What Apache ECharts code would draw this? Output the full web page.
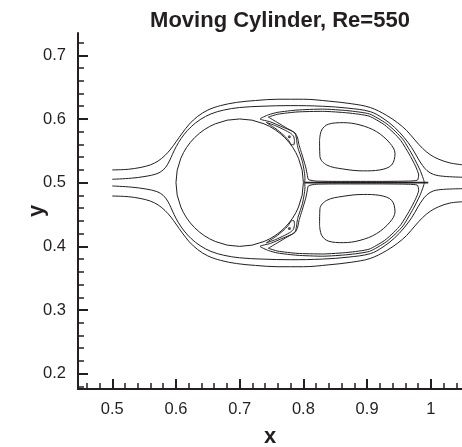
<!DOCTYPE html>
<html>
<head>
<meta charset="utf-8">
<script src="https://cdn.jsdelivr.net/npm/echarts@6/dist/echarts.min.js"></script>
<style>
  html, body { margin: 0; padding: 0; background: #fff; }
  #chart { width: 462px; height: 447px; }
</style>
</head>
<body>
<div id="chart"></div>
<script>
// Axis ticks
const xMajorTicks = [0.5, 0.6, 0.7, 0.8, 0.9, 1];
const xMinorTicks = [0.46, 0.48, 0.52, 0.54, 0.56, 0.58, 0.62, 0.64, 0.66, 0.68, 0.72, 0.74, 0.76, 0.78,
  0.82, 0.84, 0.86, 0.88, 0.92, 0.94, 0.96, 0.98, 1.02, 1.04];
const yMajorTicks = [0.2, 0.3, 0.4, 0.5, 0.6, 0.7];
const yMinorTicks = [0.18, 0.22, 0.24, 0.26, 0.28, 0.32, 0.34, 0.36, 0.38, 0.42, 0.44, 0.46, 0.48,
  0.52, 0.54, 0.56, 0.58, 0.62, 0.64, 0.66, 0.68, 0.72];

// Cylinder
const cylinderCenter = [0.7, 0.5];
const cylinderRadius = 0.1;

// Free-stream streamlines passing over / under the wake
const streamOuterTop = [[0.500,0.520],[0.525,0.521],[0.545,0.524],[0.560,0.528],[0.572,0.534],[0.583,0.543],
  [0.592,0.553],[0.600,0.564],[0.610,0.578],[0.621,0.592],[0.634,0.604],[0.650,0.614],[0.670,0.621],
  [0.695,0.626],[0.725,0.629],[0.760,0.631],[0.800,0.631],[0.840,0.628],[0.875,0.624],[0.905,0.618],
  [0.930,0.606],[0.948,0.594],[0.962,0.582],[0.975,0.567],[0.987,0.554],[0.999,0.544],[1.012,0.537],
  [1.030,0.531],[1.050,0.528]];
const streamInnerTop = [[0.500,0.5053],[0.530,0.507],[0.553,0.510],[0.570,0.514],[0.580,0.520],[0.587,0.529],
  [0.592,0.539],[0.597,0.550],[0.604,0.563],[0.613,0.576],[0.624,0.588],[0.638,0.599],[0.655,0.608],
  [0.675,0.614],[0.700,0.618],[0.735,0.620],[0.780,0.621],[0.830,0.620],[0.870,0.617],[0.905,0.6115],
  [0.925,0.601],[0.943,0.587],[0.958,0.571],[0.970,0.555],[0.980,0.538],[0.987,0.527],[0.994,0.519],
  [1.004,0.513],[1.020,0.510],[1.050,0.5085]];
const streamInnerBottom = [[0.500,0.4948],[0.530,0.493],[0.553,0.490],[0.570,0.486],[0.580,0.480],[0.587,0.471],
  [0.592,0.461],[0.597,0.450],[0.604,0.437],[0.613,0.424],[0.624,0.412],[0.638,0.401],[0.655,0.392],
  [0.675,0.386],[0.700,0.382],[0.735,0.380],[0.780,0.379],[0.830,0.380],[0.870,0.383],[0.905,0.3885],
  [0.925,0.399],[0.943,0.413],[0.958,0.429],[0.970,0.445],[0.980,0.462],[0.987,0.473],[0.994,0.481],
  [1.004,0.487],[1.020,0.4895],[1.050,0.4905]];
const streamOuterBottom = [[0.500,0.479],[0.525,0.478],[0.545,0.475],[0.560,0.471],[0.572,0.465],[0.583,0.456],
  [0.592,0.446],[0.600,0.435],[0.610,0.421],[0.621,0.407],[0.634,0.395],[0.650,0.385],[0.670,0.378],
  [0.695,0.373],[0.725,0.370],[0.760,0.368],[0.800,0.368],[0.840,0.371],[0.875,0.375],[0.905,0.381],
  [0.930,0.393],[0.948,0.405],[0.962,0.417],[0.975,0.432],[0.987,0.445],[0.999,0.455],[1.012,0.462],
  [1.030,0.468],[1.050,0.470]];

// Dividing streamline of the recirculation bubble (with the corner "horns" at separation)
const bubbleEdgeTop = [[0.802,0.500],[0.8025,0.508],[0.801,0.520],[0.7985,0.533],[0.795,0.544],[0.7915,0.5545],
  [0.790,0.562],[0.789,0.570],[0.787,0.577],[0.782,0.581],[0.7685,0.5868],[0.748,0.5955],[0.732,0.600],
  [0.745,0.6065],[0.760,0.6105],[0.790,0.6140],[0.830,0.6155],[0.870,0.6130],[0.904,0.6078],[0.930,0.593],
  [0.945,0.580],[0.957,0.567],[0.9725,0.541],[0.983,0.520],[0.988,0.507],[0.990,0.500]];
const bubbleEdgeBottom = [[0.802,0.500],[0.8025,0.492],[0.801,0.480],[0.7985,0.467],[0.795,0.456],[0.7915,0.4455],
  [0.790,0.438],[0.789,0.430],[0.787,0.423],[0.782,0.419],[0.7685,0.4132],[0.748,0.4045],[0.732,0.400],
  [0.745,0.3935],[0.760,0.3895],[0.790,0.3860],[0.830,0.3845],[0.870,0.3870],[0.904,0.3922],[0.930,0.407],
  [0.945,0.420],[0.957,0.433],[0.9725,0.459],[0.983,0.480],[0.988,0.493],[0.990,0.500]];
const wakeAxis = [[0.802,0.500],[0.850,0.500],[0.900,0.500],[0.950,0.500],[0.990,0.500],[0.996,0.500]];

// Closed streamlines just inside the bubble edge
const bubbleLoopTopA = [[0.745,0.603],[0.760,0.6075],[0.790,0.611],[0.830,0.612],[0.870,0.6095],[0.903,0.6045],
  [0.927,0.591],[0.942,0.578],[0.953,0.566],[0.966,0.545],[0.976,0.526],[0.981,0.512],[0.979,0.504],
  [0.965,0.5025],[0.920,0.502],[0.860,0.502],[0.820,0.5025],[0.808,0.505],[0.806,0.513],[0.804,0.523],
  [0.800,0.537],[0.796,0.550],[0.793,0.560],[0.791,0.570],[0.787,0.578],[0.775,0.585],[0.760,0.594],
  [0.745,0.603]];
const bubbleLoopBottomA = [[0.745,0.397],[0.760,0.3925],[0.790,0.389],[0.830,0.388],[0.870,0.3905],[0.903,0.3955],
  [0.927,0.409],[0.942,0.422],[0.953,0.434],[0.966,0.455],[0.976,0.474],[0.981,0.488],[0.979,0.496],
  [0.965,0.4975],[0.920,0.498],[0.860,0.498],[0.820,0.4975],[0.808,0.495],[0.806,0.487],[0.804,0.477],
  [0.800,0.463],[0.796,0.450],[0.793,0.440],[0.791,0.430],[0.787,0.422],[0.775,0.415],[0.760,0.406],
  [0.745,0.397]];

// Primary vortices of the wake
const vortexTop = [[0.8254,0.567],[0.8287,0.5827],[0.839,0.5917],[0.8627,0.5942],[0.8889,0.5906],[0.915,0.580],
  [0.936,0.5618],[0.9438,0.546],[0.9386,0.5278],[0.920,0.520],[0.894,0.5185],[0.862,0.5215],[0.8366,0.5278],
  [0.826,0.541],[0.8254,0.567]];
const vortexBottom = [[0.8254,0.433],[0.8287,0.4173],[0.839,0.4083],[0.8627,0.4058],[0.8889,0.4094],[0.915,0.420],
  [0.936,0.4382],[0.9438,0.454],[0.9386,0.4722],[0.920,0.480],[0.894,0.4815],[0.862,0.4785],[0.8366,0.4722],
  [0.826,0.459],[0.8254,0.433]];

// Secondary vortices inside the separation horns
const hornLoopTop = [[0.742,0.5945],[0.756,0.5895],[0.770,0.583],[0.780,0.5775],[0.7845,0.573],[0.786,0.566],
  [0.785,0.5595],[0.781,0.560],[0.776,0.5675],[0.768,0.5755],[0.757,0.5845],[0.746,0.5915],[0.742,0.5945]];
const hornLoopBottom = [[0.742,0.4055],[0.756,0.4105],[0.770,0.417],[0.780,0.4225],[0.7845,0.427],[0.786,0.434],
  [0.785,0.4405],[0.781,0.440],[0.776,0.4325],[0.768,0.4245],[0.757,0.4155],[0.746,0.4085],[0.742,0.4055]];
const hornCores = [[0.778,0.572],[0.778,0.428]];

const INK = '#231f20';
const FONT = '"Liberation Sans", Arial, Helvetica, sans-serif';
const X_MIN = 0.4462, X_MAX = 1.049, Y_MIN = 0.176, Y_MAX = 0.735;

function stream(data, opts) {
  return Object.assign({
    type: 'line', data: data, showSymbol: false, symbol: 'none', smooth: 0.35,
    lineStyle: { color: INK, width: 1 }, silent: true, animation: false, clip: true
  }, opts || {});
}

const chart = echarts.init(document.getElementById('chart'), null, { renderer: 'canvas' });
chart.setOption({
  backgroundColor: '#ffffff',
  animation: false,
  title: {
    text: 'Moving Cylinder, Re=550',
    left: 275, top: 5, textAlign: 'center',
    textStyle: { fontFamily: FONT, fontSize: 22, fontWeight: 'bold', color: INK }
  },
  grid: { left: 78, top: 33, right: 0, bottom: 58, containLabel: false, outerBoundsMode: 'none' },
  xAxis: [{
    type: 'value', min: X_MIN, max: X_MAX, position: 'bottom',
    name: 'x', nameLocation: 'middle', nameGap: 37, nameMoveOverlap: false,
    nameTextStyle: { fontFamily: FONT, fontSize: 22, fontWeight: 'bold', color: INK },
    axisLine: { show: true, lineStyle: { color: INK, width: 2 } },
    axisTick: { show: true, inside: true, length: 10, customValues: xMajorTicks, lineStyle: { color: INK, width: 2 } },
    axisLabel: { show: true, customValues: xMajorTicks, margin: 12, formatter: v => String(v),
      fontFamily: FONT, fontSize: 16.5, color: INK },
    splitLine: { show: false }
  }, {
    type: 'value', min: X_MIN, max: X_MAX, position: 'bottom', gridIndex: 0,
    axisLine: { show: false },
    axisTick: { show: true, inside: true, length: 6, customValues: xMinorTicks, lineStyle: { color: INK, width: 1.5 } },
    axisLabel: { show: false }, splitLine: { show: false }
  }],
  yAxis: [{
    type: 'value', min: Y_MIN, max: Y_MAX, position: 'left',
    name: 'y', nameLocation: 'middle', nameGap: 30, nameMoveOverlap: false,
    nameTextStyle: { fontFamily: FONT, fontSize: 22, fontWeight: 'bold', color: INK },
    axisLine: { show: true, lineStyle: { color: INK, width: 2 } },
    axisTick: { show: true, inside: true, length: 10, customValues: yMajorTicks, lineStyle: { color: INK, width: 2 } },
    axisLabel: { show: true, customValues: yMajorTicks, margin: 12, formatter: v => String(v),
      fontFamily: FONT, fontSize: 16.5, color: INK },
    splitLine: { show: false }
  }, {
    type: 'value', min: Y_MIN, max: Y_MAX, position: 'left', gridIndex: 0,
    axisLine: { show: false },
    axisTick: { show: true, inside: true, length: 6, customValues: yMinorTicks, lineStyle: { color: INK, width: 1.5 } },
    axisLabel: { show: false }, splitLine: { show: false }
  }],
  series: [
    {
      type: 'custom', silent: true, animation: false,
      data: [[cylinderCenter[0], cylinderCenter[1], cylinderRadius]],
      renderItem: function (params, api) {
        const c = api.coord([api.value(0), api.value(1)]);
        const r = api.size([api.value(2), 0])[0];
        return { type: 'circle', shape: { cx: c[0], cy: c[1], r: r },
          style: { fill: 'none', stroke: INK, lineWidth: 1 } };
      }
    },
    stream(streamOuterTop),
    stream(streamInnerTop),
    stream(streamInnerBottom),
    stream(streamOuterBottom),
    stream(bubbleEdgeTop, { smooth: 0.2 }),
    stream(bubbleEdgeBottom, { smooth: 0.2 }),
    stream(wakeAxis, { smooth: false, lineStyle: { color: INK, width: 1.6 } }),
    stream(bubbleLoopTopA, { smooth: 0.2 }),
    stream(bubbleLoopBottomA, { smooth: 0.2 }),
    stream(vortexTop),
    stream(vortexBottom),
    stream(hornLoopTop, { smooth: 0.2 }),
    stream(hornLoopBottom, { smooth: 0.2 }),
    {
      type: 'scatter', data: hornCores, symbol: 'circle', symbolSize: 3, silent: true, animation: false,
      itemStyle: { color: INK }
    }
  ]
});
</script>
</body>
</html>
